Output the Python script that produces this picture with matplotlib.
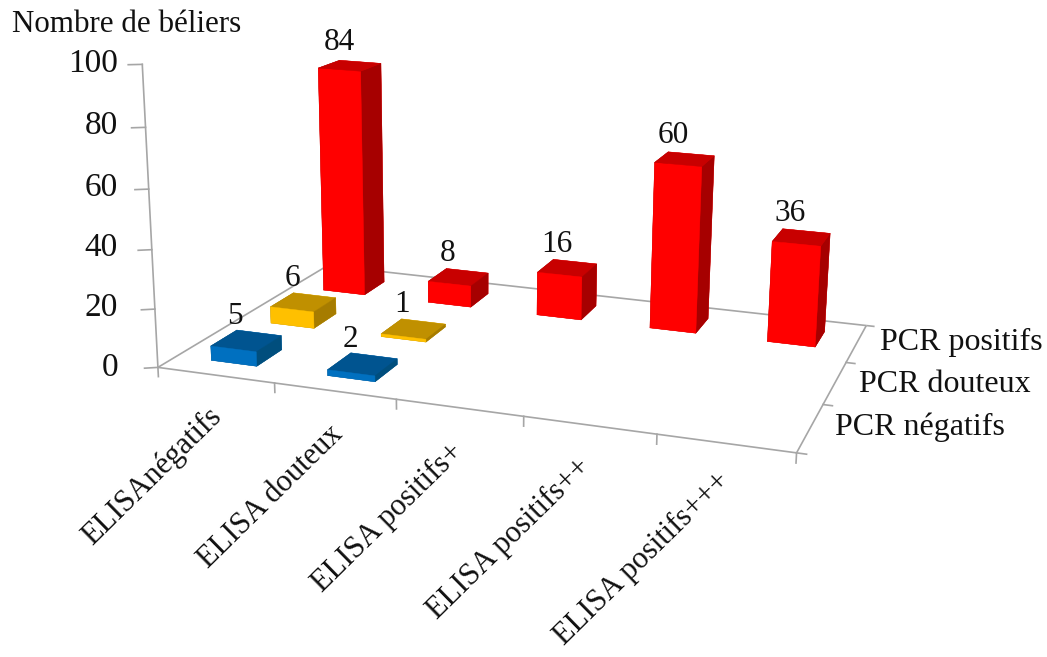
import numpy as np
import matplotlib
matplotlib.use("Agg")
import matplotlib.pyplot as plt
from mpl_toolkits.mplot3d import Axes3D
from mpl_toolkits.mplot3d.art3d import Line3DCollection

elisa_labels = ["ELISAnégatifs", "ELISA douteux", "ELISA positifs+", "ELISA positifs++", "ELISA positifs+++"]
pcr_labels = ["PCR négatifs", "PCR douteux", "PCR positifs"]
pcr_negatifs = [5, 2, 0, 0, 0]
pcr_douteux = [6, 1, 0, 0, 0]
pcr_positifs = [84, 8, 16, 60, 36]
z_ticks = [0, 20, 40, 60, 80, 100]

W, H = 1047, 657
BAR_W = 0.395
BAR_D = 0.42
AXIS_GREY = "#a6a6a6"
TEXT = "#111111"

# face colours for bar3d, order is bottom, top, front, back, left, right
RED = ["#c80000", "#c80000", "#ff0000", "#ff0000", "#a60000", "#a60000"]
GOLD = ["#c09000", "#c09000", "#ffc000", "#ffc000", "#a67c00", "#a67c00"]
BLUE = ["#005490", "#005490", "#0070c0", "#0070c0", "#004e7d", "#004e7d"]

# camera calibration: (x, y, z) in chart units -> (px, py) on the canvas
CAMERA_POINTS = [
    ((0, 0, 0), (160, 368)),
    ((1, 0, 0), (274, 383)),
    ((2, 0, 0), (394, 398)),
    ((3, 0, 0), (522, 418)),
    ((4, 0, 0), (657, 435)),
    ((5, 0, 0), (798, 453)),
    ((5, 1, 0), (823, 403)),
    ((5, 2, 0), (847, 361)),
    ((5, 3, 0), (866, 325)),
    ((0, 3, 0), (328, 267)),
    ((0, 0, 100), (143, 64)),
    ((0, 3, 100), (321, 9)),
    ((5, 3, 100), (884, 50)),
]


def solve_camera(points):
    rows = []
    for (x, y, z), (u, v) in points:
        rows.append([x, y, z, 1, 0, 0, 0, 0, -u * x, -u * y, -u * z, -u])
        rows.append([0, 0, 0, 0, x, y, z, 1, -v * x, -v * y, -v * z, -v])
    _, _, vt = np.linalg.svd(np.array(rows, dtype=float))
    p = vt[-1].reshape(3, 4)
    return p / p[2].dot([2.5, 1.5, 0, 1])


class CameraAxes(Axes3D):
    """3D axes with a fixed perspective camera filling the whole figure."""

    camera = solve_camera(CAMERA_POINTS)

    def apply_aspect(self, position=None):
        pass

    def get_proj(self):
        inv = self.transData.inverted()
        o = inv.transform((0, H))
        ex = inv.transform((1, H)) - o
        ey = inv.transform((0, H - 1)) - o
        p = self.camera
        m = np.zeros((4, 4))
        m[0] = ex[0] * p[0] + o[0] * p[2]
        m[1] = ey[1] * p[1] + o[1] * p[2]
        m[2] = p[2] - [0, 0, 0, 1]
        m[3] = p[2]
        return m


def fig_xy(px, py):
    return px / W, 1 - py / H


def project(x, y, z):
    u, v, w = CameraAxes.camera.dot([x, y, z, 1])
    return u / w, v / w


def main():
    plt.rcParams["font.family"] = ["Liberation Serif", "DejaVu Serif"]
    fig = plt.figure(figsize=(W / 100, H / 100), dpi=100)
    ax = CameraAxes(fig, [0, 0, 1, 1], computed_zorder=False)
    fig.add_axes(ax)
    ax.set_axis_off()

    # floor outline, drawn as a collection under the bars
    line = dict(color=AXIS_GREY, lw=1.2)
    floor = [
        [(0, 0, 0), (5, 0, 0)],
        [(5, 0, 0), (5, 3, 0)],
        [(5, 3, 0), (0, 3, 0)],
        [(0, 3, 0), (0, 0, 0)],
        [(5, 3, 0), (5.07, 3, 0)],
    ]
    ax.add_collection3d(Line3DCollection(floor, colors=AXIS_GREY, linewidths=1.2, zorder=1), autolim=False)

    # value axis with ticks pointing left
    ax.plot([0, 0], [0, 0], [0, 100], **line)
    for t in z_ticks:
        ax.plot([0, -0.086], [0, -0.052], [t, t], **line)

    # category ticks
    for i in range(6):
        ax.plot([i, i], [0, 0], [0, -3.2], **line)
    for j in range(3):
        ax.plot([5, 5.07], [j, j], [0, 0], **line)

    # bars, front rows on top of back rows
    rows = [(pcr_negatifs, BLUE), (pcr_douteux, GOLD), (pcr_positifs, RED)]
    for j, (values, colors) in enumerate(rows):
        for i, v in enumerate(values):
            if v == 0:
                continue
            xb = i + 0.5 - BAR_W / 2
            yb = j + 0.5 - BAR_D / 2
            ax.bar3d(xb, yb, 0, BAR_W, BAR_D, v, color=colors, shade=False,
                     edgecolor=colors, linewidth=0.3, zorder=10 - j)
            # value label sits just above the top of its bar
            x, y = fig_xy(*project(i + 0.4, j + 0.5, v + 3))
            fig.text(x, y, str(v), ha="center", va="bottom", fontsize=22.5, color=TEXT)

    # tick labels
    tick_y = [368, 308, 248, 188, 126, 64]
    for t, py in zip(z_ticks, tick_y):
        x, y = fig_xy(118, py)
        fig.text(x, y, str(t), ha="right", va="center", fontsize=24, color=TEXT)

    elisa_ends = [(223, 418), (344, 435), (464, 453), (592, 468), (731, 482)]
    for label, (px, py) in zip(elisa_labels, elisa_ends):
        x, y = fig_xy(px, py)
        fig.text(x, y, label, ha="right", va="baseline", rotation=44.5,
                 rotation_mode="anchor", fontsize=22, color=TEXT)

    pcr_starts = [(835, 427), (859, 384), (880, 342)]
    for label, (px, py) in zip(pcr_labels, pcr_starts):
        x, y = fig_xy(px, py)
        fig.text(x, y, label, ha="left", va="center", fontsize=23, color=TEXT)

    x, y = fig_xy(12, 24)
    fig.text(x, y, "Nombre de béliers", ha="left", va="center", fontsize=22.3, color=TEXT)

    fig.savefig("out.png", dpi=100)


if __name__ == "__main__":
    main()
